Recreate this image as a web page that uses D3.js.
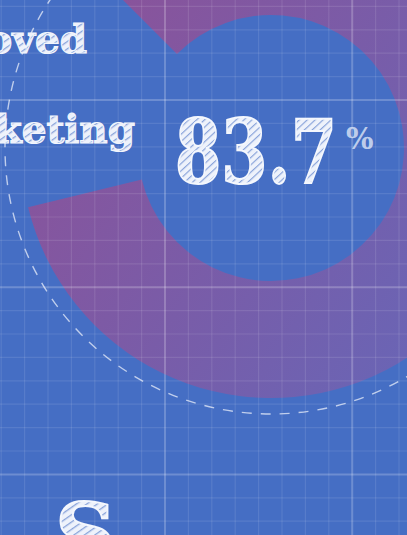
<!DOCTYPE html>
<html><head><meta charset="utf-8">
<script src="https://cdn.jsdelivr.net/npm/d3@7"></script>
<style>html,body{margin:0;padding:0;background:#466ec3;overflow:hidden}</style>
</head><body>
<script>
// ---- data ----
const percentValue = [83.7];
const valueLabels = ["83.7"];
const unitLabels = ["%"];
const captionLines = ["oved", "keting"];
const footerGlyph = ["S"];

const W = 407, H = 535;
const svg = d3.select("body").append("svg").attr("width", W).attr("height", H);
const defs = svg.append("defs");

svg.append("rect").attr("width", W).attr("height", H).attr("fill", "#456ec4");

const grad = defs.append("linearGradient").attr("id", "arcGrad")
  .attr("gradientUnits", "userSpaceOnUse").attr("x1", 30).attr("y1", 60).attr("x2", 420).attr("y2", 330);
grad.append("stop").attr("offset", 0).attr("stop-color", "#8b5299");
grad.append("stop").attr("offset", 1).attr("stop-color", "#6b64b4");

const pat = defs.append("pattern").attr("id", "hatch").attr("patternUnits", "userSpaceOnUse")
  .attr("width", 6).attr("height", 6).attr("patternTransform", "rotate(-35)");
pat.append("rect").attr("width", 6).attr("height", 6).attr("fill", "#eef2fb");
pat.append("rect").attr("width", 6).attr("height", 1.3).attr("fill", "#89a3da");

const cx = 271, cy = 148, rInner = 133, rOuter = 250, rDash = 266;
const angle = d3.scaleLinear().domain([0, 100]).range([-Math.PI / 4, -Math.PI / 4 + 2 * Math.PI]);

const g = svg.append("g").attr("transform", `translate(${cx},${cy})`);
grad.attr("gradientTransform", `translate(${-cx},${-cy})`);
g.selectAll("path.val").data(percentValue).join("path").attr("class", "val")
  .attr("d", d => d3.arc()({innerRadius: rInner, outerRadius: rOuter, startAngle: angle(0), endAngle: angle(d)}))
  .attr("fill", "url(#arcGrad)");

g.append("circle").attr("r", rDash).attr("fill", "none")
  .attr("stroke", "#dfe6f6").attr("stroke-opacity", 0.8).attr("stroke-width", 1.4)
  .attr("stroke-dasharray", "10 9");

const step = 23.4;
const xs = d3.range(165 - 8 * step, W + 1, step);
const ys = d3.range(100 - 5 * step, H + 1, step);
const grid = svg.append("g");
xs.forEach(x => {
  const major = Math.round((x - 165) / step) % 8 === 0;
  grid.append("line").attr("x1", x).attr("x2", x).attr("y1", 0).attr("y2", H)
    .attr("stroke", "#ffffff").attr("stroke-opacity", major ? 0.22 : 0.1).attr("stroke-width", major ? 2 : 1.2);
});
ys.forEach(y => {
  const major = Math.round((y - 100) / step) % 8 === 0;
  grid.append("line").attr("x1", 0).attr("x2", W).attr("y1", y).attr("y2", y)
    .attr("stroke", "#ffffff").attr("stroke-opacity", major ? 0.22 : 0.1).attr("stroke-width", major ? 2 : 1.2);
});

const font = "'DejaVu Serif', serif";
const capPos = [{x: 87, y: 53}, {x: 135, y: 143}];
svg.selectAll("text.cap").data(captionLines).join("text").attr("class", "cap")
  .attr("x", (d, i) => capPos[i].x).attr("y", (d, i) => capPos[i].y)
  .attr("text-anchor", "end").attr("font-family", font).attr("font-weight", "bold")
  .attr("font-size", 39).attr("fill", "url(#hatch)").attr("stroke", "#f2f5fc").attr("stroke-width", 1.2)
  .text(d => d);

const valG = svg.append("g");
const valT = valG.selectAll("text.val").data(valueLabels).join("text").attr("class", "val")
  .attr("x", 0).attr("y", 0).attr("font-family", font).attr("font-weight", "bold")
  .attr("font-size", 88)
  .attr("fill", "url(#hatch)").attr("stroke", "#f4f7fd").attr("stroke-width", 2)
  .text(d => d);
const natW = valT.node().getComputedTextLength();
const sx = 162 / natW;
valG.attr("transform", `translate(175,183) scale(${sx},1)`);

svg.selectAll("text.unit").data(unitLabels).join("text").attr("class", "unit")
  .attr("x", 346).attr("y", 149).attr("font-family", font).attr("font-weight", "bold")
  .attr("font-size", 29)
  .attr("fill", "#dfe7f7").attr("fill-opacity", 0.8)
  .text(d => d);

svg.selectAll("text.foot").data(footerGlyph).join("text").attr("class", "foot")
  .attr("x", 55).attr("y", 564).attr("font-family", font).attr("font-weight", "bold")
  .attr("font-size", 85).attr("fill", "url(#hatch)").attr("stroke", "#f4f7fd").attr("stroke-width", 2)
  .text(d => d);
</script>
</body></html>
